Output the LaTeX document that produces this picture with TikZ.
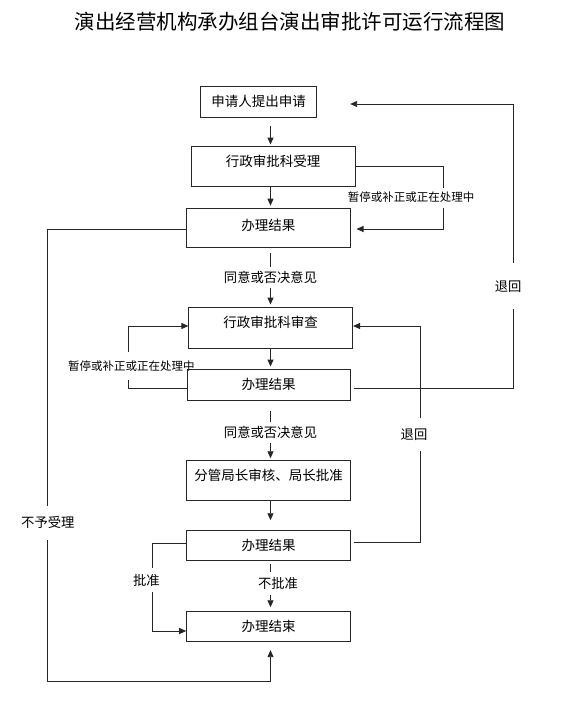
\documentclass[tikz,border=0pt]{standalone}
\usepackage{fontspec}
\setmainfont{Noto Sans CJK SC}
\usetikzlibrary{arrows.meta,backgrounds}

\begin{document}
\begin{tikzpicture}[x=1pt,y=-1pt,
box/.style={draw=black!85,line width=0.9pt,font=\fontsize{13.5}{14}\selectfont,text height=10.26pt,text depth=0pt,inner sep=0pt},
lbl/.style={fill=white,inner sep=1pt,font=\fontsize{13.3}{14}\selectfont,text height=10.1pt,text depth=0pt},
small/.style={lbl,font=\fontsize{11.5}{12}\selectfont,text height=8.74pt},
arr/.style={draw=black!85,line width=0.9pt,-{Triangle[length=7pt,width=6pt]}}]
\useasboundingbox (0,0) rectangle (577,706);
\node[anchor=base,font=\fontsize{20.5}{22}\selectfont] (title) at (290,30) {演出经营机构承办组台演出审批许可运行流程图};
\node[box,minimum width=116pt,minimum height=31pt] (b1) at (258.7,101.5) {申请人提出申请};
\node[box,minimum width=164pt,minimum height=40pt,text depth=8.6pt] (b2) at (273,166) {行政审批科受理};
\node[box,minimum width=163.3pt,minimum height=39.7pt,text depth=5.8pt] (b3) at (268.4,228) {办理结果};
\node[box,minimum width=163.8pt,minimum height=41pt,text depth=9.4pt] (b4) at (270.7,327.5) {行政审批科审查};
\node[box,minimum width=163.4pt,minimum height=31pt] (b5) at (268.7,384.5) {办理结果};
\node[box,minimum width=163.7pt,minimum height=40pt,text depth=11.4pt] (b6) at (268.5,480.7) {分管局长审核、局长批准};
\node[box,minimum width=163.7pt,minimum height=30pt] (b7) at (268.5,545.7) {办理结果};
\node[box,minimum width=163.7pt,minimum height=30pt] (b8) at (268.5,626.7) {办理结束};
\coordinate (spine) at (270.5,0);
\coordinate (floor) at (47.8,681);
\begin{scope}[on background layer]
% main line
\draw[arr,shorten <=9pt,shorten >=1pt] (b1.south -| spine) -- (b2.north -| spine);
\draw[arr,shorten >=2pt] (b2.south -| spine) -- (b3.north -| spine);
\draw[arr,shorten <=5pt,shorten >=2pt] (b3.south -| spine) -- node[lbl,minimum height=21pt] {同意或否决意见} (b4.north -| spine);
\draw[arr,shorten >=2pt] (b4.south -| spine) -- (b5.north -| spine);
\draw[arr,shorten <=11pt,shorten >=2pt] (b5.south -| spine) -- node[lbl,pos=0.54,minimum height=21pt] {同意或否决意见} (b6.north -| spine);
\draw[arr,shorten >=10pt] (b6.south -| spine) -- (b7.north -| spine);
\draw[arr,shorten <=3pt,shorten >=4pt] (b7.south -| spine) -- node[lbl,pos=0.44,xshift=7.5pt,minimum height=23pt] {不批准} (b8.north -| spine);
% loops
\draw[arr,shorten >=6pt] (b2.east) -- ++(87.7,0) |- node[small,pos=0.25,xshift=-32pt,minimum height=20pt] {暂停或补正或正在处理中} ([yshift=-1pt]b3.east);
\draw[arr,shorten <=3pt,shorten >=33pt] ([yshift=-4pt]b5.east) -- ++(162.3,0) |- node[lbl,pos=0.18,xshift=-5pt,minimum height=46pt] {退回} ([yshift=-2.5pt]b1.east);
\draw[arr,shorten <=3pt] ([yshift=3.5pt]b7.east) -- ++(69.2,0) |- node[lbl,pos=0.25,xshift=-6pt,minimum height=33pt] {退回} ([yshift=1.5pt]b4.east);
\draw[arr] ([yshift=-4pt]b5.west) -- ++(-58.2,0) |- node[small,pos=0.18,xshift=3pt,minimum height=28pt] {暂停或补正或正在处理中} ([yshift=1.5pt]b4.west);
\draw[arr] ([yshift=2.5pt]b7.west) -- ++(-33.3,0) |- node[lbl,pos=0.21,xshift=-6.6pt,minimum height=24pt] {批准} ([yshift=-4.3pt]b8.west);
\draw[arr,shorten >=8pt] ([yshift=-1pt]b3.west) -| node[lbl,pos=0.825,minimum height=34pt] {不予受理} (floor) -| (b8.south -| spine);
\end{scope}
\end{tikzpicture}
\end{document}
